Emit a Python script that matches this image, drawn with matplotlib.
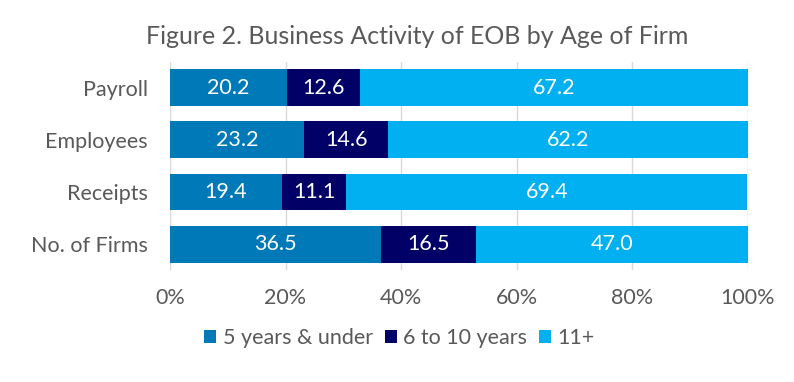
import matplotlib.pyplot as plt
import numpy as np

plt.rcParams['font.family'] = ['Lato', 'DejaVu Sans']

categories = ["Payroll", "Employees", "Receipts", "No. of Firms"]
series_names = ["5 years & under", "6 to 10 years", "11+"]
under5 = [20.2, 23.2, 19.4, 36.5]
six_ten = [12.6, 14.6, 11.1, 16.5]
eleven = [67.2, 62.2, 69.4, 47.0]
colors = ["#0079B8", "#000066", "#00B0F0"]

fig = plt.figure(figsize=(7.94, 3.82), dpi=100)
ax = fig.add_axes([0.214, 0.293, 0.728, 0.545])

y = np.arange(len(categories))
left = np.zeros(len(categories))
for vals, name, c in zip([under5, six_ten, eleven], series_names, colors):
    vals = np.array(vals)
    ax.barh(y, vals, left=left, height=0.71, color=c, label=name, zorder=3)
    for yi, l, v in zip(y, left, vals):
        ax.text(l + v / 2, yi, f"{v:.1f}", ha='center', va='center',
                color='white', fontsize=15.5, zorder=4)
    left += vals

ax.set_ylim(len(categories) - 0.5, -0.5)
ax.set_xlim(0, 100)
ax.set_yticks(y)
ax.set_yticklabels(categories, fontsize=15.5, color='#595959')
ax.set_xticks(np.arange(0, 101, 20))
ax.set_xticklabels([f"{t}%" for t in range(0, 101, 20)], fontsize=15.5, color='#595959')
ax.tick_params(axis='y', length=0, pad=16)
ax.tick_params(axis='x', length=0, pad=13)
ax.grid(axis='x', color='#D9D9D9', linewidth=1, zorder=0)
for s in ax.spines.values():
    s.set_visible(False)

fig.text(0.525, 0.905, "Figure 2. Business Activity of EOB by Age of Firm", fontsize=18,
         color='#595959', ha='center', va='center')
fig.legend(loc='center', bbox_to_anchor=(0.503, 0.115), ncol=3, frameon=False,
           fontsize=15.5, handlelength=0.55, handleheight=0.55, handletextpad=0.3,
           columnspacing=0.55, labelcolor='#595959')

fig.savefig("out.png", dpi=100)
